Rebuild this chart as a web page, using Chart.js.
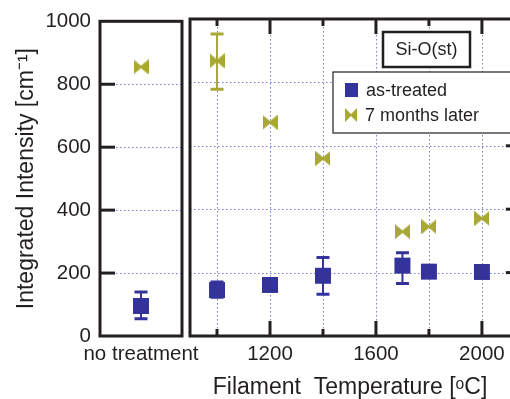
<!DOCTYPE html>
<html>
<head>
<meta charset="utf-8">
<script src="https://cdn.jsdelivr.net/npm/chart.js@4.4.1/dist/chart.umd.min.js"></script>
<style>
html, body { margin:0; padding:0; overflow:hidden; background:#fff; width:510px; height:399px; }
canvas { position:absolute; left:0; top:0; }
</style>
</head>
<body>
<canvas id="leftChart" width="510" height="399"></canvas>
<canvas id="rightChart" width="510" height="399"></canvas>
<script>
// ===== Data =====
const refLabel = ['no treatment'];
const refAsTreated = [95];
const refAsTreatedLo = [55];
const refAsTreatedHi = [140];
const refLater = [855];

const temps = [1000, 1200, 1400, 1700, 1800, 2000];
const asTreated = [145, 161, 190, 222, 203, 202];
const asTreatedLo = [122, 161, 132, 166, 203, 202];
const asTreatedHi = [170, 161, 248, 263, 203, 202];
const later = [868, 674, 560, 329, 345, 371];
const laterLo = [778, 674, 560, 329, 345, 371];
const laterHi = [953, 674, 560, 329, 345, 371];

const yTicks = [0, 200, 400, 600, 800, 1000];
const yInner = [200, 400, 600, 800];
const tempTicks = [1000, 1200, 1400, 1600, 1800, 2000];
const tempLabels = [1200, 1600, 2000];
const seriesNames = ['as-treated', '7 months later'];
const boxLabel = 'Si-O(st)';

// ===== Styles =====
const FONT = "'Liberation Sans', Arial, sans-serif";
const INK = '#231f20';
const BLUE = '#333399';
const OLIVE = '#a8a832';
const GRID = 'rgba(80,95,205,0.8)';

function bowtie(w, h, color){
    const c = document.createElement('canvas');
    c.width = w; c.height = h;
    const g = c.getContext('2d');
    g.fillStyle = color;
    g.beginPath();
    g.moveTo(0,0); g.lineTo(w/2,h*0.42); g.lineTo(w,0);
    g.lineTo(w,h); g.lineTo(w/2,h*0.58); g.lineTo(0,h);
    g.closePath(); g.fill();
    return c;
}
const bowtieMark = bowtie(15, 15, OLIVE);
const bowtieSmall = bowtie(12, 14, OLIVE);

// ===== Grid, frame and inward ticks =====
// the right panel's frame sits past the page edge, so its right side comes from o.xEnd
const framePlugin = {
    id:'frame',
    beforeDatasetsDraw(chart, args, o){
        const {ctx, chartArea:a, scales:{x,y}} = chart;
        ctx.save();
        ctx.strokeStyle = GRID; ctx.lineWidth = 1; ctx.setLineDash([1.5,2.5]);
        (o.gridY||[]).forEach(v=>{
            const py = Math.round(y.getPixelForValue(v))+0.5;
            ctx.beginPath(); ctx.moveTo(a.left,py); ctx.lineTo(a.right,py); ctx.stroke();
        });
        (o.gridX||[]).forEach(v=>{
            const px = Math.round(x.getPixelForValue(v))+0.5;
            ctx.beginPath(); ctx.moveTo(px,a.top); ctx.lineTo(px,a.bottom); ctx.stroke();
        });
        ctx.restore();
    },
    afterDatasetsDraw(chart, args, o){
        const {ctx, chartArea:a, scales:{x,y}} = chart;
        const right = o.xEnd !== undefined ? x.getPixelForValue(o.xEnd) : a.right;
        ctx.save();
        ctx.strokeStyle = INK; ctx.lineWidth = 3;
        (o.yTicksLeft||[]).forEach(v=>{
            const py = y.getPixelForValue(v);
            ctx.beginPath(); ctx.moveTo(a.left,py); ctx.lineTo(a.left+15,py); ctx.stroke();
        });
        (o.yTicksRight||[]).forEach(v=>{
            const py = y.getPixelForValue(v);
            ctx.beginPath(); ctx.moveTo(right,py); ctx.lineTo(right-15,py); ctx.stroke();
        });
        (o.xTicks||[]).forEach(v=>{
            const px = x.getPixelForValue(v);
            const len = (o.xMajor||[]).includes(v) ? 15 : 7;
            ctx.beginPath(); ctx.moveTo(px,a.top); ctx.lineTo(px,a.top+len); ctx.stroke();
            ctx.beginPath(); ctx.moveTo(px,a.bottom); ctx.lineTo(px,a.bottom-len); ctx.stroke();
        });
        ctx.strokeRect(a.left, a.top, right-a.left, a.bottom-a.top);
        ctx.restore();
    }
};

// ===== Error bars =====
const errPlugin = {
    id:'errbars',
    beforeDatasetsDraw(chart){
        const {ctx, scales:{y}} = chart;
        chart.data.datasets.forEach((ds,di)=>{
            if(!ds.errLo) return;
            const meta = chart.getDatasetMeta(di);
            ctx.save();
            ctx.strokeStyle = ds.backgroundColor;
            meta.data.forEach((pt,i)=>{
                if(ds.errLo[i] === ds.errHi[i]) return;
                const yl = y.getPixelForValue(ds.errLo[i]), yh = y.getPixelForValue(ds.errHi[i]);
                ctx.lineWidth = 2;
                ctx.beginPath(); ctx.moveTo(pt.x,yl); ctx.lineTo(pt.x,yh); ctx.stroke();
                ctx.lineWidth = 3;
                ctx.beginPath(); ctx.moveTo(pt.x-6.5,yl); ctx.lineTo(pt.x+6.5,yl);
                ctx.moveTo(pt.x-6.5,yh); ctx.lineTo(pt.x+6.5,yh); ctx.stroke();
            });
            ctx.restore();
        });
    }
};

// ===== Legend and label box =====
const legendPlugin = {
    id:'legendBox',
    afterDraw(chart){
        const ctx = chart.ctx;
        const ds = chart.data.datasets;
        ctx.save();
        // label box
        ctx.fillStyle = '#fff'; ctx.fillRect(383,32,87,35);
        ctx.strokeStyle = INK; ctx.lineWidth = 2.5; ctx.strokeRect(383,32,87,35);
        ctx.fillStyle = INK; ctx.font = '18px ' + FONT;
        ctx.textAlign = 'center'; ctx.textBaseline = 'middle';
        ctx.fillText(boxLabel, 426.5, 50);
        // legend
        ctx.fillStyle = '#fff'; ctx.fillRect(333,72,200,61);
        ctx.lineWidth = 1.2; ctx.strokeRect(333,72,200,61);
        ctx.fillStyle = BLUE; ctx.fillRect(345,83,13,14);
        ctx.drawImage(bowtieSmall, 345, 108);
        ctx.fillStyle = INK; ctx.textAlign = 'left';
        ctx.fillText(ds[0].label, 366, 91);
        ctx.fillText(ds[1].label, 365, 116);
        ctx.restore();
    }
};

const tickFont = {family:FONT, size:20.5};
const titleFont = {family:FONT, size:23};

// ===== Left panel: no treatment =====
new Chart(document.getElementById('leftChart'), {
    type:'scatter',
    data:{ datasets:[
        { label:seriesNames[0], data: refAsTreated.map(v=>({x:0,y:v})), errLo:refAsTreatedLo, errHi:refAsTreatedHi,
          pointStyle:'rect', pointRadius:11.3, backgroundColor:BLUE, borderWidth:0 },
        { label:seriesNames[1], data: refLater.map(v=>({x:0,y:v})),
          pointStyle:bowtieMark, backgroundColor:OLIVE }
    ]},
    options:{
        responsive:false, animation:false,
        layout:{ autoPadding:false, padding:{top:19, right:328, bottom:0, left:0} },
        plugins:{ legend:{display:false}, tooltip:{enabled:false},
                  frame:{ gridY:yInner, yTicksLeft:yInner } },
        scales:{
            x:{ type:'linear', min:-1, max:1,
                grid:{display:false, drawTicks:false}, border:{display:false},
                afterBuildTicks: s=>{ s.ticks = [{value:0}]; },
                afterFit: s=>{ s.height = 63; s.paddingLeft = 0; s.paddingRight = 0; },
                ticks:{ callback:()=>refLabel[0], padding:6, font:tickFont, color:INK, maxRotation:0, autoSkip:false } },
            y:{ min:0, max:1000,
                grid:{display:false, drawTicks:false}, border:{display:false},
                afterBuildTicks: s=>{ s.ticks = yTicks.map(v=>({value:v})); },
                afterFit: s=>{ s.width = 100; },
                ticks:{ callback:v=>String(v), padding:9, font:tickFont, color:INK },
                title:{ display:true, text:'Integrated Intensity [cm⁻¹]', font:titleFont, color:INK, padding:{top:13, bottom:0} } }
        }
    },
    plugins:[framePlugin, errPlugin]
});

// ===== Right panel: filament temperature =====
new Chart(document.getElementById('rightChart'), {
    type:'scatter',
    data:{ datasets:[
        { label:seriesNames[0], data: temps.map((t,i)=>({x:t,y:asTreated[i]})), errLo:asTreatedLo, errHi:asTreatedHi,
          pointStyle:'rect', pointRadius:11.3, backgroundColor:BLUE, borderWidth:0 },
        { label:seriesNames[1], data: temps.map((t,i)=>({x:t,y:later[i]})), errLo:laterLo, errHi:laterHi,
          pointStyle:bowtieMark, backgroundColor:OLIVE }
    ]},
    options:{
        responsive:false, animation:false,
        layout:{ autoPadding:false, padding:{top:19, right:0, bottom:0, left:190} },
        plugins:{ legend:{display:false}, tooltip:{enabled:false},
                  frame:{ gridY:yInner, gridX:tempTicks, yTicksRight:yInner, xTicks:tempTicks, xMajor:tempLabels, xEnd:2147 } },
        scales:{
            x:{ type:'linear', min:898, max:2106,
                grid:{display:false, drawTicks:false}, border:{display:false},
                afterBuildTicks: s=>{ s.ticks = tempTicks.map(v=>({value:v})); },
                afterFit: s=>{ s.height = 63; s.paddingLeft = 0; s.paddingRight = 0; },
                ticks:{ callback:v=>tempLabels.includes(v) ? String(v) : '', padding:6, font:tickFont, color:INK, maxRotation:0, autoSkip:false },
                title:{ display:true, text:'Filament  Temperature [ᵒC]', font:titleFont, color:INK, padding:{top:0, bottom:-2} } },
            y:{ display:false, min:0, max:1000 }
        }
    },
    plugins:[framePlugin, errPlugin, legendPlugin]
});
</script>
</body>
</html>
